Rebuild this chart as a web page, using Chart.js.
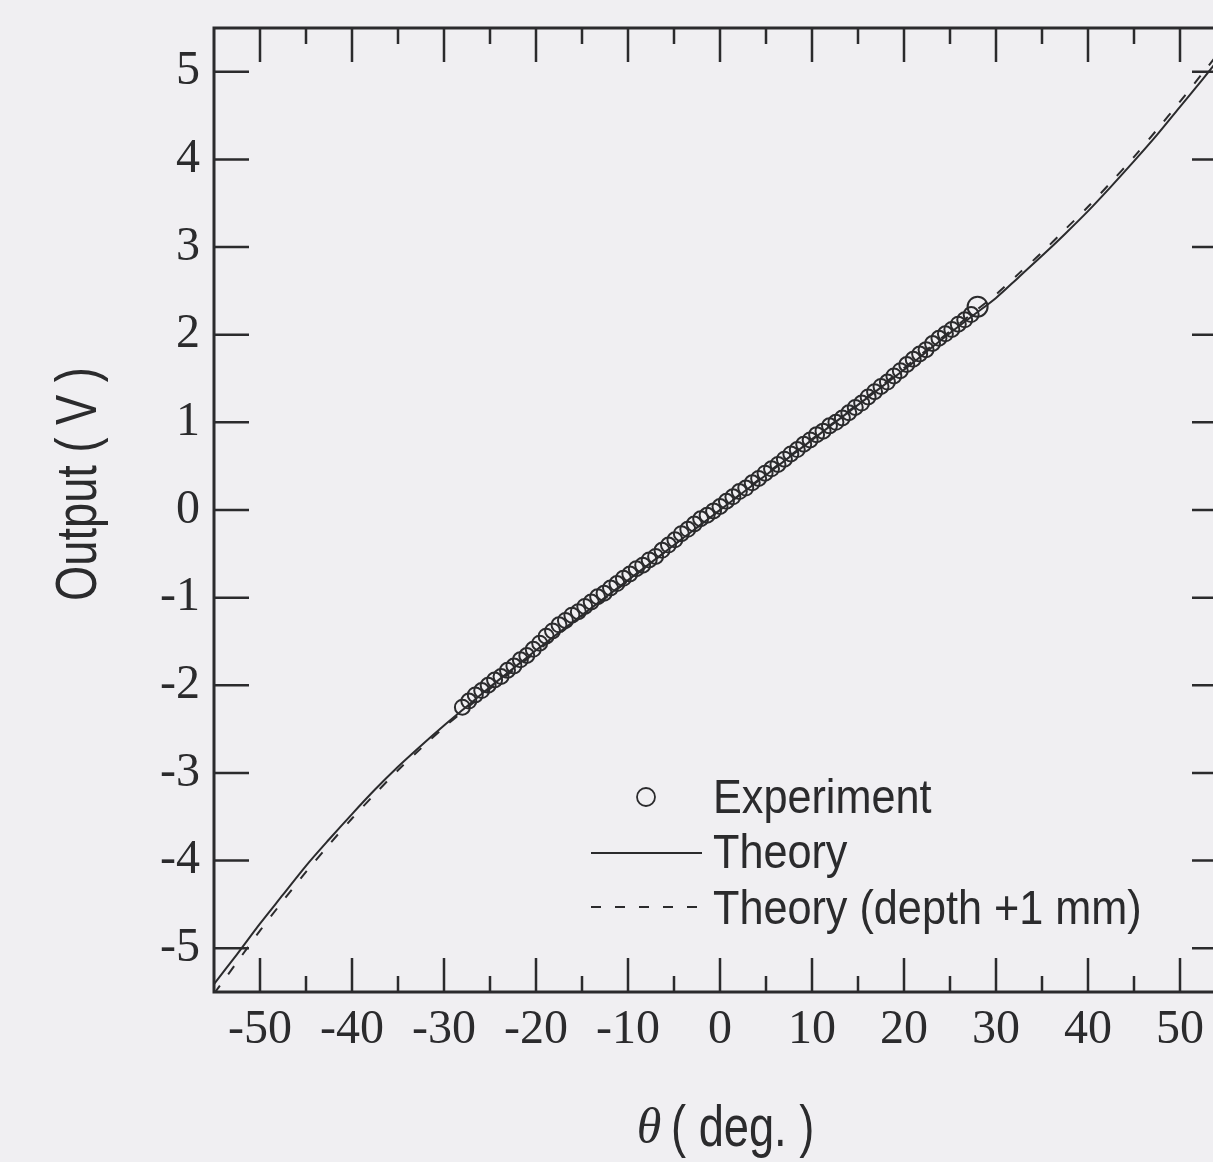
<!DOCTYPE html>
<html>
<head>
<meta charset="utf-8">
<script src="https://cdn.jsdelivr.net/npm/chart.js@4.4.0/dist/chart.umd.min.js"></script>
<style>
  html, body { margin: 0; padding: 0; background: #f0eff2; overflow: hidden; }
  #wrap { width: 1240px; height: 1162px; }
</style>
</head>
<body>
<div id="wrap"><canvas id="grafico" width="1240" height="1162"></canvas></div>
<script>
// valores (theta em graus, saída em V)
const expTheta = [-28.0, -27.3, -26.6, -25.9, -25.2, -24.5, -23.8, -23.1, -22.4, -21.7,
  -21.0, -20.3, -19.6, -18.9, -18.2, -17.5, -16.8, -16.1, -15.4, -14.7,
  -14.0, -13.3, -12.6, -11.9, -11.2, -10.5, -9.8, -9.1, -8.4, -7.7,
  -7.0, -6.3, -5.6, -4.9, -4.2, -3.5, -2.8, -2.1, -1.4, -0.7,
  0.0, 0.7, 1.4, 2.1, 2.8, 3.5, 4.2, 4.9, 5.6, 6.3,
  7.0, 7.7, 8.4, 9.1, 9.8, 10.5, 11.2, 11.9, 12.6, 13.3,
  14.0, 14.7, 15.4, 16.1, 16.8, 17.5, 18.2, 18.9, 19.6, 20.3,
  21.0, 21.7, 22.4, 23.1, 23.8, 24.5, 25.2, 25.9, 26.6, 27.3, 28.0];
const expOutput = [-2.25, -2.18, -2.11, -2.06, -2.00, -1.94, -1.90, -1.83, -1.78, -1.71,
  -1.66, -1.59, -1.52, -1.44, -1.38, -1.31, -1.26, -1.20, -1.16, -1.10,
  -1.05, -0.99, -0.95, -0.89, -0.84, -0.78, -0.73, -0.67, -0.63, -0.57,
  -0.53, -0.46, -0.40, -0.34, -0.27, -0.22, -0.16, -0.10, -0.06, -0.01,
  0.04, 0.10, 0.15, 0.21, 0.25, 0.31, 0.36, 0.42, 0.47, 0.52,
  0.58, 0.64, 0.69, 0.75, 0.80, 0.86, 0.90, 0.96, 1.00, 1.05,
  1.11, 1.17, 1.22, 1.29, 1.35, 1.41, 1.46, 1.53, 1.59, 1.66,
  1.72, 1.78, 1.83, 1.90, 1.96, 2.01, 2.06, 2.12, 2.17, 2.23, 2.32];

const theoryTheta = [-55, -52.5, -50, -47.5, -45, -42.5, -40, -37.5, -35, -32.5, -30, -27.5,
  -25, -22.5, -20, -15, -10, -5, 0, 5, 10, 15, 20, 22.5, 25, 27.5,
  30, 32.5, 35, 37.5, 40, 42.5, 45, 47.5, 50, 52.5, 55];
const theoryOutput = [-5.41, -5.07, -4.72, -4.39, -4.06, -3.76, -3.47, -3.19, -2.93, -2.69, -2.46, -2.24,
  -2.02, -1.81, -1.60, -1.20, -0.80, -0.40, 0.0, 0.40, 0.80, 1.20, 1.60, 1.81, 2.02, 2.22,
  2.42, 2.66, 2.90, 3.15, 3.41, 3.69, 3.98, 4.28, 4.60, 4.92, 5.25];
const theoryDepthOutput = [-5.52, -5.16, -4.80, -4.46, -4.13, -3.82, -3.52, -3.24, -2.97, -2.72, -2.48, -2.26,
  -2.04, -1.83, -1.62, -1.21, -0.81, -0.40, 0.0, 0.41, 0.81, 1.21, 1.62, 1.83, 2.04, 2.25,
  2.46, 2.70, 2.94, 3.20, 3.46, 3.74, 4.03, 4.34, 4.66, 4.99, 5.32];

const xTickLabels = [-50, -40, -30, -20, -10, 0, 10, 20, 30, 40, 50];
const xMinorTicks = [-45, -35, -25, -15, -5, 5, 15, 25, 35, 45];
const yTickLabels = [-5, -4, -3, -2, -1, 0, 1, 2, 3, 4, 5];

const corTraco = "#2b2b2d";

function paraPontos(xs, ys) {
  return xs.map((x, i) => ({ x: x, y: ys[i] }));
}

// texto "estreito" (a fonte original é condensada)
function textoEstreito(ctx, texto, x, y, fonte, escala, align) {
  ctx.save();
  ctx.translate(x, y);
  ctx.scale(escala, 1);
  ctx.font = fonte;
  ctx.textAlign = align;
  ctx.textBaseline = "middle";
  ctx.fillText(texto, 0, 0);
  ctx.restore();
}

// moldura com ticks para dentro nos quatro lados
const moldura = {
  id: "moldura",
  afterDatasetsDraw(chart) {
    const ctx = chart.ctx;
    const a = chart.chartArea;
    const sx = chart.scales.x;
    const sy = chart.scales.y;
    ctx.save();
    ctx.strokeStyle = corTraco;
    ctx.lineWidth = 3;
    ctx.strokeRect(a.left, a.top, a.right - a.left, a.bottom - a.top);
    ctx.lineWidth = 2.5;
    ctx.beginPath();
    xTickLabels.forEach(v => {
      const px = sx.getPixelForValue(v);
      ctx.moveTo(px, a.bottom); ctx.lineTo(px, a.bottom - 34);
      ctx.moveTo(px, a.top); ctx.lineTo(px, a.top + 34);
    });
    xMinorTicks.forEach(v => {
      const px = sx.getPixelForValue(v);
      ctx.moveTo(px, a.bottom); ctx.lineTo(px, a.bottom - 16);
      ctx.moveTo(px, a.top); ctx.lineTo(px, a.top + 16);
    });
    yTickLabels.forEach(v => {
      const py = sy.getPixelForValue(v);
      ctx.moveTo(a.left, py); ctx.lineTo(a.left + 35, py);
      ctx.moveTo(a.right, py); ctx.lineTo(a.right - 34, py);
    });
    ctx.stroke();
    ctx.restore();
  }
};

// títulos dos eixos e legenda dentro do gráfico
const textos = {
  id: "textos",
  afterDraw(chart) {
    const ctx = chart.ctx;
    const ds = chart.data.datasets;
    ctx.save();
    ctx.fillStyle = corTraco;

    // eixo y
    ctx.save();
    ctx.translate(80, 484);
    ctx.rotate(-Math.PI / 2);
    textoEstreito(ctx, "Output ( V )", 0, 0, "58px 'Liberation Sans', Arial, sans-serif", 0.78, "center");
    ctx.restore();

    // eixo x
    ctx.font = "italic 50px 'Liberation Serif', serif";
    ctx.textAlign = "center";
    ctx.textBaseline = "middle";
    ctx.fillText("θ", 649, 1130);
    textoEstreito(ctx, "( deg. )", 671, 1130, "58px 'Liberation Sans', Arial, sans-serif", 0.78, "left");

    // legenda
    const fonteLeg = "48px 'Liberation Sans', Arial, sans-serif";
    ctx.strokeStyle = corTraco;
    ctx.lineWidth = 1.8;
    ctx.beginPath();
    ctx.arc(646, 797, 9, 0, Math.PI * 2);
    ctx.stroke();
    textoEstreito(ctx, ds[0].label, 713, 800, fonteLeg, 0.9, "left");

    ctx.lineWidth = ds[1].borderWidth;
    ctx.beginPath();
    ctx.moveTo(591, 853); ctx.lineTo(702, 853);
    ctx.stroke();
    textoEstreito(ctx, ds[1].label, 713, 855, fonteLeg, 0.9, "left");

    ctx.lineWidth = ds[2].borderWidth;
    ctx.setLineDash(ds[2].borderDash);
    ctx.beginPath();
    ctx.moveTo(591, 907); ctx.lineTo(702, 907);
    ctx.stroke();
    ctx.setLineDash([]);
    textoEstreito(ctx, ds[2].label, 713, 911, fonteLeg, 0.9, "left");

    ctx.restore();
  }
};

const ctx = document.getElementById("grafico").getContext("2d");
const grafico = new Chart(ctx, {
  type: "scatter",
  data: {
    datasets: [{
      label: "Experiment",
      data: paraPontos(expTheta, expOutput),
      showLine: false,
      pointStyle: "circle",
      pointRadius: c => (c.dataIndex === expTheta.length - 1 ? 10 : 7.5),
      pointBorderWidth: 2,
      borderColor: corTraco,
      backgroundColor: "rgba(0,0,0,0)",
      order: 3
    }, {
      label: "Theory",
      data: paraPontos(theoryTheta, theoryOutput),
      showLine: true,
      borderColor: corTraco,
      borderWidth: 2,
      pointRadius: 0,
      tension: 0.3,
      order: 1
    }, {
      label: "Theory (depth +1 mm)",
      data: paraPontos(theoryTheta, theoryDepthOutput),
      showLine: true,
      borderColor: corTraco,
      borderWidth: 2,
      borderDash: [10, 14],
      pointRadius: 0,
      tension: 0.3,
      order: 2
    }]
  },
  options: {
    responsive: false,
    animation: false,
    devicePixelRatio: 1,
    layout: { padding: { top: 28, right: 14, left: 0, bottom: 0 } },
    plugins: {
      legend: { display: false },
      tooltip: { enabled: false }
    },
    scales: {
      x: {
        type: "linear",
        min: -55,
        max: 55,
        afterBuildTicks: s => { s.ticks = xTickLabels.map(v => ({ value: v })); },
        afterFit: s => { s.height = 170; s.paddingLeft = 0; s.paddingRight = 0; },
        grid: { display: false, drawTicks: false },
        border: { display: false },
        ticks: {
          color: corTraco,
          padding: 10,
          maxRotation: 0,
          autoSkip: false,
          font: { family: "'Liberation Serif', 'Times New Roman', serif", size: 48 }
        }
      },
      y: {
        type: "linear",
        min: -5.5,
        max: 5.5,
        afterBuildTicks: s => { s.ticks = yTickLabels.map(v => ({ value: v })); },
        afterFit: s => { s.width = 214; s.paddingTop = 0; s.paddingBottom = 0; },
        grid: { display: false, drawTicks: false },
        border: { display: false },
        ticks: {
          color: corTraco,
          padding: 14,
          autoSkip: false,
          font: { family: "'Liberation Serif', 'Times New Roman', serif", size: 48 }
        }
      }
    }
  },
  plugins: [moldura, textos]
});
</script>
</body>
</html>
